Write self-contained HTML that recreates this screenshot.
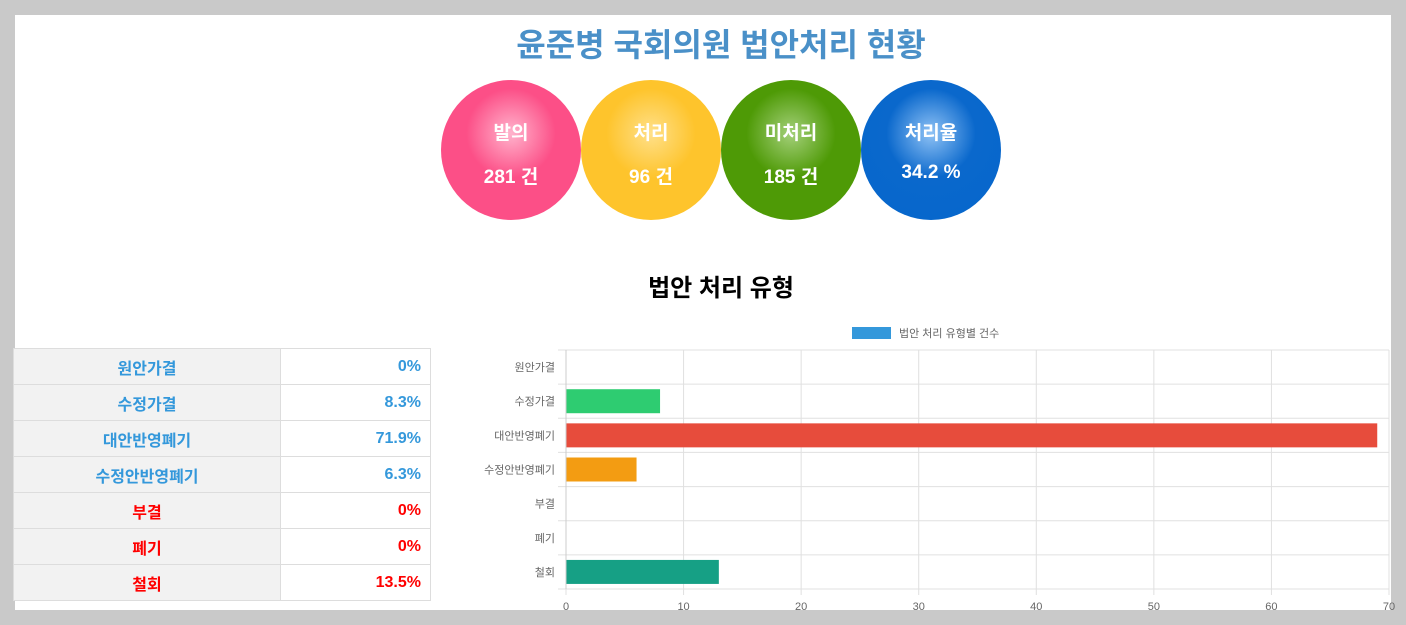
<!DOCTYPE html>
<html><head><meta charset="utf-8">
<style>
body{margin:0;width:1406px;height:625px;background:#c9c9c9;font-family:"Liberation Sans","Noto Sans CJK KR",sans-serif;position:relative;overflow:hidden}
#panel{position:absolute;left:15px;top:15px;width:1376px;height:595px;background:#fff}
h1{position:absolute;left:0;top:20px;width:1442px;margin:0;text-align:center;font-size:32px;color:#4a90c8;font-weight:bold}
.circ{position:absolute;top:80px;width:140px;height:140px;border-radius:50%;color:#fff;font-weight:bold;text-align:center}
.circ .l{position:absolute;top:38px;width:100%;font-size:19px}
.circ .v{position:absolute;top:82px;width:100%;font-size:19px}
h2{position:absolute;left:0;top:268px;width:1442px;margin:0;text-align:center;font-size:24px;color:#000;font-weight:bold}
table{position:absolute;left:13px;top:348px;border-collapse:collapse;width:418px}
td{height:35px;border:1px solid #ddd;font-size:16px;font-weight:bold;padding:0}
td.k{background:#f2f2f2;text-align:center;width:266px}
td.p{text-align:right;padding-right:9px}
.b{color:#3498db}.r{color:#f00}
</style></head><body>
<div id="panel"></div>
<h1>윤준병 국회의원 법안처리 현황</h1>
<div class="circ" style="left:441px;background:radial-gradient(circle at 50% 38%,#ffb3cc 0,#fc4f87 40%,#fc4f87 100%)"><div class="l">발의</div><div class="v">281 건</div></div>
<div class="circ" style="left:581px;background:radial-gradient(circle at 50% 38%,#ffe08a 0,#fec42c 40%,#fec42c 100%)"><div class="l">처리</div><div class="v">96 건</div></div>
<div class="circ" style="left:721px;background:radial-gradient(circle at 50% 38%,#a4d07a 0,#4e9a06 40%,#4e9a06 100%)"><div class="l">미처리</div><div class="v">185 건</div></div>
<div class="circ" style="left:861px;background:radial-gradient(circle at 50% 38%,#8fc2f5 0,#0a68cc 40%,#0566cc 100%)"><div class="l">처리율</div><div class="v">34.2 %</div></div>
<h2>법안 처리 유형</h2>
<table>
<tr><td class="k b">원안가결</td><td class="p b">0%</td></tr>
<tr><td class="k b">수정가결</td><td class="p b">8.3%</td></tr>
<tr><td class="k b">대안반영폐기</td><td class="p b">71.9%</td></tr>
<tr><td class="k b">수정안반영폐기</td><td class="p b">6.3%</td></tr>
<tr><td class="k r">부결</td><td class="p r">0%</td></tr>
<tr><td class="k r">폐기</td><td class="p r">0%</td></tr>
<tr><td class="k r">철회</td><td class="p r">13.5%</td></tr>
</table>
<svg id="chart" width="1406" height="625" style="position:absolute;left:0;top:0"></svg>
<script>
const categories=["원안가결","수정가결","대안반영폐기","수정안반영폐기","부결","폐기","철회"];
const values=[0,8,69,6,0,0,13];
const colors=["#3498db","#2ecc71","#e74c3c","#f39c12","#9b59b6","#34495e","#16a085"];
const ticks=[0,10,20,30,40,50,60,70];
const NS="http://www.w3.org/2000/svg";
const svg=document.getElementById("chart");
const X0=566,X1=1389,Y0=350,Y1=589;
const xs=v=>X0+(v-ticks[0])/(ticks[ticks.length-1]-ticks[0])*(X1-X0);
const band=(Y1-Y0)/categories.length;
function mk(t,a){const e=document.createElementNS(NS,t);for(const k in a)e.setAttribute(k,a[k]);svg.appendChild(e);return e;}
ticks.forEach(t=>{
 const g=mk("line",{x1:xs(t),x2:xs(t),y1:Y0,y2:Y1+6,stroke:"#e0e0e0"});
 
 
 const tx=mk("text",{x:xs(t),y:610,"text-anchor":"middle","font-size":11,fill:"#666"});
 tx.textContent=t;
 
 
});
for(let i=0;i<=categories.length;i++){
 const g=mk("line",{x1:X0-8,x2:X1,y1:Y0+i*band,y2:Y0+i*band,stroke:"#e0e0e0"});
 
 
}
categories.forEach((c,i)=>{
 const cy=Y0+band*(i+0.5);
 const tx=mk("text",{x:X0-11,y:cy+4,"text-anchor":"end","font-size":11,fill:"#666"});
 tx.textContent=c;
 
 
 const r=mk("rect",{x:xs(0),y:cy-12,width:Math.max(0,xs(values[i])-xs(0)),height:24,fill:colors[i]});
 
 
});
const ax=mk("line",{x1:X0,x2:X0,y1:Y0,y2:Y1,stroke:"#ccc"});


const sw=mk("rect",{x:852,y:327,width:39,height:12,fill:"#3498db"});


const lt=mk("text",{x:899,y:337,"font-size":11,fill:"#666"});
lt.textContent="법안 처리 유형별 건수";


</script>
</body></html>
